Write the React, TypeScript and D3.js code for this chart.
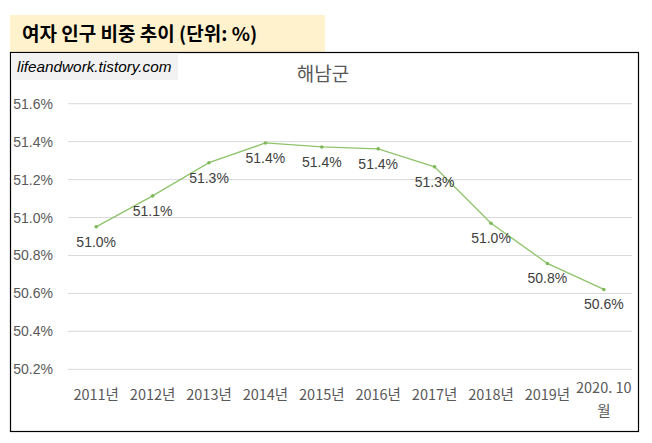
import { useEffect, useRef } from 'react';
import * as d3 from 'd3';

const categories = [
  '2011년', '2012년', '2013년', '2014년', '2015년',
  '2016년', '2017년', '2018년', '2019년', '2020. 10월',
];
// wrapped tick text, as Excel breaks the last one
const tickLines = [
  ['2011년'], ['2012년'], ['2013년'], ['2014년'], ['2015년'],
  ['2016년'], ['2017년'], ['2018년'], ['2019년'], ['2020. 10', '월'],
];
const values = [50.951, 51.114, 51.289, 51.393, 51.372, 51.362, 51.267, 50.97, 50.758, 50.621];
const yTicks = [50.2, 50.4, 50.6, 50.8, 51.0, 51.2, 51.4, 51.6];

const W = 652;
const H = 443;
const KR = '"Noto Sans CJK KR", "Noto Sans", sans-serif';
const NUM = '"Liberation Sans", Arial, sans-serif';

export default function App() {
  const svgRef = useRef<SVGSVGElement>(null);

  useEffect(() => {
    if (!svgRef.current) return;
    const svg = d3.select(svgRef.current);
    svg.selectAll('*').remove();

    // header box
    svg.append('rect').attr('x', 10).attr('y', 15).attr('width', 315).attr('height', 37).attr('fill', '#fff2cc');
    svg.append('text')
      .attr('x', 22).attr('y', 41)
      .attr('font-family', KR).attr('font-size', 19).attr('font-weight', 'bold')
      .attr('fill', '#000')
      .text('여자 인구 비중 추이 (단위: %)');

    // chart frame
    svg.append('rect')
      .attr('x', 10.5).attr('y', 52.5).attr('width', 628).attr('height', 379)
      .attr('fill', '#fff').attr('stroke', '#000').attr('stroke-width', 1.2);

    // watermark
    svg.append('rect').attr('x', 11).attr('y', 53).attr('width', 167).attr('height', 27).attr('fill', '#f2f2f2');
    svg.append('text')
      .attr('x', 17).attr('y', 72)
      .attr('font-family', NUM).attr('font-size', 15.3).attr('font-style', 'italic')
      .attr('fill', '#000')
      .text('lifeandwork.tistory.com');

    // chart title
    svg.append('text')
      .attr('x', 323).attr('y', 81)
      .attr('text-anchor', 'middle')
      .attr('font-family', KR).attr('font-size', 19)
      .attr('fill', '#595959')
      .text('해남군');

    const x = d3.scaleBand<string>().domain(categories).range([68, 632]);
    const y = d3.scaleLinear().domain([50.2, 51.6]).range([369.3, 103.7]);
    const cx = (c: string) => (x(c) || 0) + x.bandwidth() / 2;

    // gridlines
    svg.append('g')
      .selectAll('line')
      .data(yTicks)
      .enter()
      .append('line')
      .attr('x1', 68).attr('x2', 632)
      .attr('y1', (d) => y(d)).attr('y2', (d) => y(d))
      .attr('stroke', '#d9d9d9').attr('stroke-width', 1);

    // y labels
    svg.append('g')
      .selectAll('text')
      .data(yTicks)
      .enter()
      .append('text')
      .attr('x', 53).attr('y', (d) => y(d) + 5)
      .attr('text-anchor', 'end')
      .attr('font-family', NUM).attr('font-size', 14)
      .attr('fill', '#595959')
      .text((d) => d.toFixed(1) + '%');

    // x labels
    const xl = svg.append('g')
      .selectAll('text')
      .data(categories)
      .enter()
      .append('text')
      .attr('text-anchor', 'middle')
      .attr('font-family', KR).attr('font-size', 14.5)
      .attr('fill', '#595959');
    xl.each(function (c, i) {
      const lines = tickLines[i];
      const t = d3.select(this);
      const top = lines.length > 1 ? 393 : 400;
      lines.forEach((ln, j) => {
        t.append('tspan').attr('x', cx(c)).attr('y', top + j * 23).text(ln);
      });
    });

    const data = categories.map((c, i) => ({ c, v: values[i] }));

    // line
    const line = d3.line<{ c: string; v: number }>()
      .x((d) => cx(d.c))
      .y((d) => y(d.v));
    svg.append('path')
      .datum(data)
      .attr('d', line)
      .attr('fill', 'none')
      .attr('stroke', '#8fc46b')
      .attr('stroke-width', 1.3);

    svg.append('g')
      .selectAll('circle')
      .data(data)
      .enter()
      .append('circle')
      .attr('cx', (d) => cx(d.c))
      .attr('cy', (d) => y(d.v))
      .attr('r', 1.8)
      .attr('fill', '#7fb85a');

    // data labels
    svg.append('g')
      .selectAll('text')
      .data(data)
      .enter()
      .append('text')
      .attr('x', (d) => cx(d.c))
      .attr('y', (d) => y(d.v) + 20)
      .attr('text-anchor', 'middle')
      .attr('font-family', NUM).attr('font-size', 14)
      .attr('fill', '#404040')
      .text((d) => d.v.toFixed(1) + '%');
  }, []);

  return (
    <svg
      ref={svgRef}
      width={W}
      height={H}
      style={{ position: 'absolute', left: 0, top: 0, background: '#fff' }}
    />
  );
}
